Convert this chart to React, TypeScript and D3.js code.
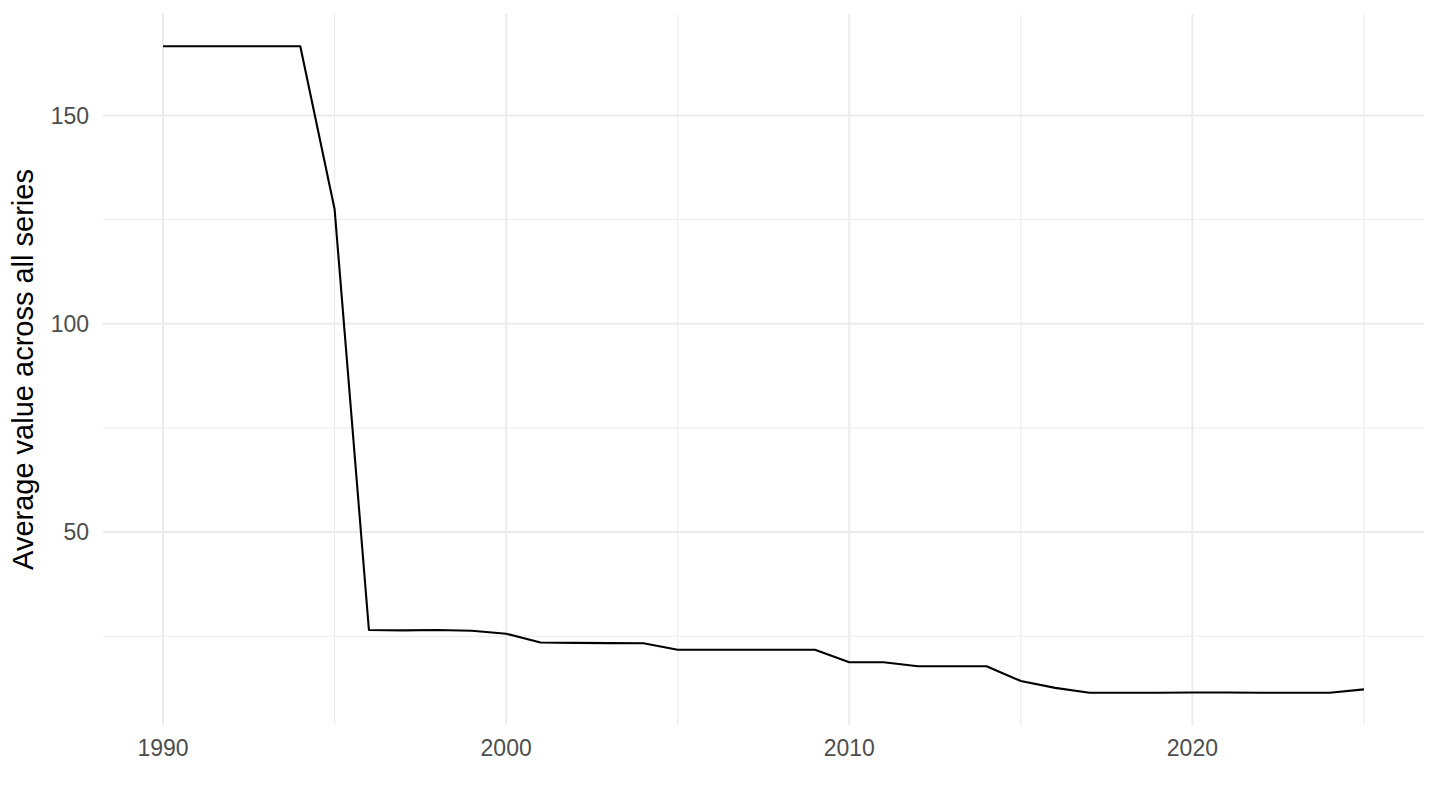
import { useMemo } from 'react'
import { scaleLinear, line, extent } from 'd3'

// Years and the average value
const YEARS = [
  1990, 1991, 1992, 1993, 1994, 1995, 1996, 1997, 1998, 1999,
  2000, 2001, 2002, 2003, 2004, 2005, 2006, 2007, 2008, 2009,
  2010, 2011, 2012, 2013, 2014, 2015, 2016, 2017, 2018, 2019,
  2020, 2021, 2022, 2023, 2024, 2025,
]
const VALUES = [
  166.6, 166.6, 166.6, 166.6, 166.6, 127.5, 26.5, 26.4, 26.5, 26.3,
  25.6, 23.5, 23.4, 23.35, 23.3, 21.75, 21.75, 21.75, 21.75, 21.75,
  18.75, 18.75, 17.8, 17.8, 17.8, 14.25, 12.6, 11.45, 11.45, 11.45,
  11.5, 11.5, 11.45, 11.45, 11.45, 12.25,
]
const X_MAJOR = [1990, 2000, 2010, 2020]
const X_MINOR = [1995, 2005, 2015, 2025]
const Y_MAJOR = [50, 100, 150]
const Y_MINOR = [25, 75, 125]
const Y_TITLE = 'Average value across all series'

const W = 1440
const H = 810
const LEFT = 103
const RIGHT = 1424
const TOP = 14
const BOTTOM = 725
const FONT = '"Liberation Sans", Arial, Helvetica, sans-serif'

function expand([a, b]: [number, number]): [number, number] {
  const d = (b - a) * 0.05
  return [a - d, b + d]
}

export default function App() {
  const { x, y, path } = useMemo(() => {
    const x = scaleLinear()
      .domain(expand(extent(YEARS) as [number, number]))
      .range([LEFT, RIGHT])
    const y = scaleLinear()
      .domain(expand(extent(VALUES) as [number, number]))
      .range([BOTTOM, TOP])
    const path = line<number>()
      .x((_, i) => x(YEARS[i]))
      .y((v) => y(v))(VALUES)
    return { x, y, path }
  }, [])

  return (
    <svg
      width={W}
      height={H}
      style={{ position: 'absolute', left: 0, top: 0, background: '#fff' }}
      fontFamily={FONT}
    >
      {Y_MINOR.map((v) => (
        <line key={'ym' + v} x1={LEFT} x2={RIGHT} y1={y(v)} y2={y(v)} stroke="#EBEBEB" strokeWidth={1} />
      ))}
      {X_MINOR.map((v) => (
        <line key={'xm' + v} x1={x(v)} x2={x(v)} y1={TOP} y2={BOTTOM} stroke="#EBEBEB" strokeWidth={1} />
      ))}
      {Y_MAJOR.map((v) => (
        <line key={'yM' + v} x1={LEFT} x2={RIGHT} y1={y(v)} y2={y(v)} stroke="#EBEBEB" strokeWidth={2} />
      ))}
      {X_MAJOR.map((v) => (
        <line key={'xM' + v} x1={x(v)} x2={x(v)} y1={TOP} y2={BOTTOM} stroke="#EBEBEB" strokeWidth={2} />
      ))}

      <path d={path ?? ''} fill="none" stroke="#000" strokeWidth={2.1} strokeLinejoin="round" />

      {Y_MAJOR.map((v) => (
        <text key={'yl' + v} x={89} y={y(v)} dy="0.36em" textAnchor="end" fontSize={23} fill="#4D4D4D">
          {v}
        </text>
      ))}
      {X_MAJOR.map((v) => (
        <text key={'xl' + v} x={x(v)} y={756} textAnchor="middle" fontSize={23} fill="#4D4D4D">
          {v}
        </text>
      ))}
      <text
        x={33}
        y={(TOP + BOTTOM) / 2}
        transform={`rotate(-90 33 ${(TOP + BOTTOM) / 2})`}
        textAnchor="middle"
        fontSize={29}
        fill="#000"
      >
        {Y_TITLE}
      </text>
    </svg>
  )
}
